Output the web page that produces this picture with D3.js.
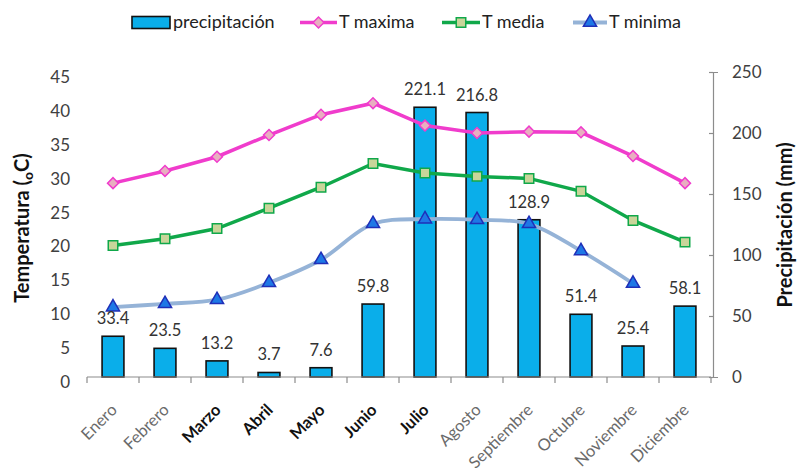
<!DOCTYPE html>
<html>
<head>
<meta charset="utf-8">
<script src="https://cdn.jsdelivr.net/npm/d3@7"></script>
<style>
  body { margin: 0; background: #fff; }
  text { font-family: Lato, "Open Sans", sans-serif; }
</style>
</head>
<body>
<svg id="chart" width="798" height="472"></svg>
<script>
const months = ['Enero','Febrero','Marzo','Abril','Mayo','Junio','Julio','Agosto','Septiembre','Octubre','Noviembre','Diciembre'];
const boldMonths = ['Marzo','Abril','Mayo','Junio','Julio'];
const precip = [33.4, 23.5, 13.2, 3.7, 7.6, 59.8, 221.1, 216.8, 128.9, 51.4, 25.4, 58.1];
const tMax = [28.6, 30.4, 32.5, 35.7, 38.7, 40.4, 37.1, 36.0, 36.2, 36.1, 32.6, 28.6];
const tMed = [19.4, 20.4, 21.9, 24.9, 28.0, 31.5, 30.1, 29.6, 29.3, 27.4, 23.1, 19.9];
const tMin = [10.3, 10.8, 11.4, 13.9, 17.3, 22.6, 23.3, 23.2, 22.6, 18.6, 13.8, null];
const tempTicks = [0,5,10,15,20,25,30,35,40,45];
const precipTicks = [0,50,100,150,200,250];

const svg = d3.select('#chart');
const mL = 87, mR = 711, mT = 72, mB = 377;

const x = d3.scaleBand().domain(months).range([mL, mR]);
const xBar = d3.scaleBand().domain(months).range([mL, mR]).paddingInner(0.58).paddingOuter(0.29);
const yT = d3.scaleLinear().domain([0, 45]).range([mB, mT]);
const yP = d3.scaleLinear().domain([0, 250]).range([mB, mT]);

const gray = '#8c8c8c';
const cx = i => x(months[i]) + x.bandwidth() / 2;

// bars
svg.append('g').selectAll('rect').data(precip).join('rect')
  .attr('x', (d, i) => xBar(months[i]))
  .attr('y', d => yP(d))
  .attr('width', xBar.bandwidth())
  .attr('height', d => mB - yP(d))
  .attr('fill', '#0AAEEA')
  .attr('stroke', '#111')
  .attr('stroke-width', 1.6);

// bottom axis
const xAxis = svg.append('g');
xAxis.append('line').attr('x1', mL).attr('x2', mR).attr('y1', mB).attr('y2', mB)
  .attr('stroke', gray).attr('stroke-width', 1.2);
xAxis.selectAll('line.tk').data(months.concat(['end'])).join('line')
  .attr('class', 'tk')
  .attr('x1', (d, i) => i < 12 ? x(d) : mR)
  .attr('x2', (d, i) => i < 12 ? x(d) : mR)
  .attr('y1', mB).attr('y2', mB + 6)
  .attr('stroke', gray).attr('stroke-width', 1.2);
const xl = xAxis.selectAll('g.lab').data(months).join('g')
  .attr('class', 'lab')
  .attr('transform', d => 'translate(' + (x(d) + x.bandwidth() / 2 + 5) + ',411)');
xl.append('text')
  .attr('transform', 'rotate(-45)')
  .attr('text-anchor', 'end')
  .attr('font-size', 16.5)
  .attr('font-weight', d => boldMonths.includes(d) ? 'bold' : 'normal')
  .attr('fill', d => boldMonths.includes(d) ? '#111' : '#6a6a6a')
  .text(d => d);

// left axis labels (no line)
svg.append('g').selectAll('text').data(tempTicks).join('text')
  .attr('x', 70)
  .attr('y', d => yT(d) + 5)
  .attr('dy', '0.35em')
  .attr('text-anchor', 'end')
  .attr('font-size', 17)
  .attr('fill', '#404040')
  .text(d => d);

// right axis
const rAxis = svg.append('g').attr('transform', `translate(${mR + 2},0)`)
  .call(d3.axisRight(yP).tickValues(precipTicks).tickSize(5).tickPadding(14));
rAxis.select('.domain').attr('stroke', gray).attr('stroke-width', 1.2);
rAxis.selectAll('.tick line').attr('stroke', gray).attr('stroke-width', 1.2).attr('x1', -4).attr('x2', 0);
rAxis.selectAll('.tick text').attr('font-size', 17).attr('fill', '#404040')
  .attr('font-family', 'Lato, "Open Sans", sans-serif');

// lines
const lineStraight = d3.line().defined(d => d != null).x((d, i) => cx(i)).y(d => yT(d));
const lineSmooth = d3.line().defined(d => d != null).x((d, i) => cx(i)).y(d => yT(d)).curve(d3.curveCatmullRom.alpha(0.5));

svg.append('path').attr('d', lineSmooth(tMin)).attr('fill', 'none').attr('stroke', '#95B3D7').attr('stroke-width', 3.8);
svg.append('path').attr('d', lineStraight(tMed)).attr('fill', 'none').attr('stroke', '#10A84A').attr('stroke-width', 3.5);
svg.append('path').attr('d', lineStraight(tMax)).attr('fill', 'none').attr('stroke', '#F03CCC').attr('stroke-width', 3.5);

const diamond = d3.symbol().type(d3.symbolSquare).size(60)();
const square = d3.symbol().type(d3.symbolSquare).size(90)();
const triangle = d3.symbol().type(d3.symbolTriangle).size(75)();

function markers(data, path, fill, stroke, rot) {
  svg.append('g').selectAll('path').data(data.map((d, i) => [d, i]).filter(p => p[0] != null)).join('path')
    .attr('d', path)
    .attr('transform', p => `translate(${cx(p[1])},${yT(p[0])}) rotate(${rot})`)
    .attr('fill', fill).attr('stroke', stroke).attr('stroke-width', 1.5);
}
markers(tMin, triangle, '#1E78E6', '#1F2FB8', 0);
markers(tMed, square, '#C9D59A', '#10A84A', 0);
markers(tMax, diamond, '#E8AFC0', '#F03CCC', 45);

// bar value labels
svg.append('g').selectAll('text').data(precip).join('text')
  .attr('x', (d, i) => cx(i))
  .attr('y', d => yP(d) - 12)
  .attr('text-anchor', 'middle')
  .attr('font-size', 16.5)
  .attr('fill', '#333')
  .text(d => d.toFixed(1));

// axis titles
svg.append('text')
  .attr('transform', 'translate(29,228) rotate(-90)')
  .attr('text-anchor', 'middle')
  .attr('font-size', 20).attr('font-weight', 'bold').attr('fill', '#111')
  .call(t => {
    t.append('tspan').text('Temperatura (');
    t.append('tspan').attr('font-size', 14).attr('dy', 4).text('o');
    t.append('tspan').attr('dy', -4).text('C)');
  });
svg.append('text')
  .attr('transform', 'translate(792,225) rotate(-90)')
  .attr('text-anchor', 'middle')
  .attr('font-size', 20).attr('font-weight', 'bold').attr('fill', '#111')
  .text('Precipitación (mm)');

// legend
const lg = svg.append('g');
lg.append('rect').attr('x', 132).attr('y', 16.5).attr('width', 38).attr('height', 12)
  .attr('fill', '#0AAEEA').attr('stroke', '#111').attr('stroke-width', 1.6);
lg.append('text').attr('x', 173).attr('y', 28).attr('font-size', 18).attr('fill', '#222').text('precipitación');

const legItems = [
  { name: 'T maxima', x1: 300, x2: 337, color: '#F03CCC', path: diamond, fill: '#E8AFC0', rot: 45, w: 3.5 },
  { name: 'T media', x1: 442, x2: 480, color: '#10A84A', path: square, fill: '#C9D59A', rot: 0, w: 3.5 },
  { name: 'T minima', x1: 573, x2: 607, color: '#95B3D7', path: triangle, fill: '#1E78E6', rot: 0, w: 3.8, mstroke: '#1F2FB8' }
];
legItems.forEach(it => {
  lg.append('line').attr('x1', it.x1).attr('x2', it.x2).attr('y1', 22.5).attr('y2', 22.5)
    .attr('stroke', it.color).attr('stroke-width', it.w);
  lg.append('path').attr('d', it.path)
    .attr('transform', `translate(${(it.x1 + it.x2) / 2},22.5) rotate(${it.rot})`)
    .attr('fill', it.fill).attr('stroke', it.mstroke || it.color).attr('stroke-width', 1.5);
  lg.append('text').attr('x', it.x2 + 2).attr('y', 28).attr('font-size', 18).attr('fill', '#222').text(it.name);
});
</script>
</body>
</html>
